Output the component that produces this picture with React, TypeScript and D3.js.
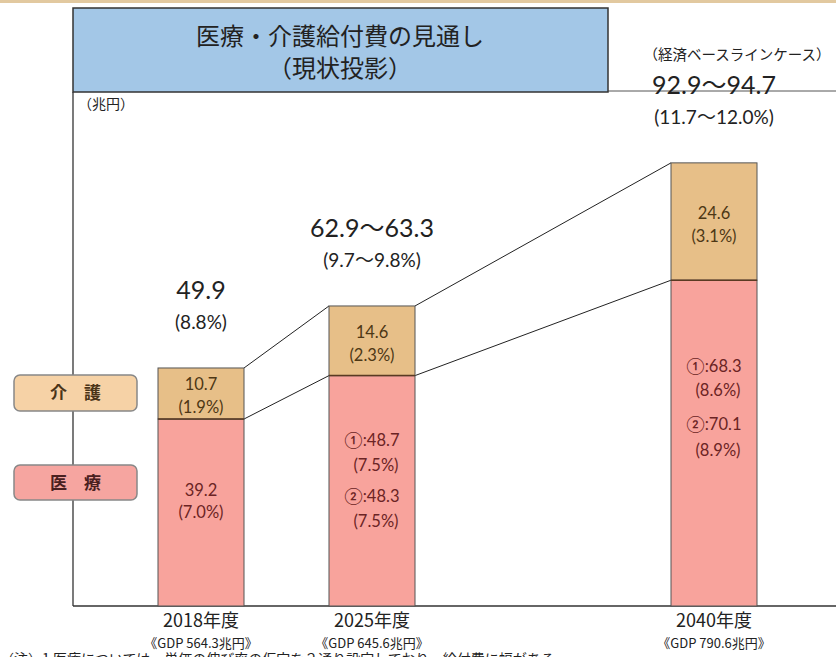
import React from "react";
import * as d3 from "d3";

const categories = ["2018年度", "2025年度", "_gap", "2040年度"];
const years = ["2018年度", "2025年度", "2040年度"];
const gdpLabels = ["《GDP 564.3兆円》", "《GDP 645.6兆円》", "《GDP 790.6兆円》"];
const medical = [39.2, 48.3, 68.3];
const care = [10.7, 14.6, 24.6];
const totalLabels = ["49.9", "62.9～63.3", "92.9～94.7"];
const totalPctLabels = ["(8.8%)", "(9.7～9.8%)", "(11.7～12.0%)"];
const careLabels = [["10.7", "(1.9%)"], ["14.6", "(2.3%)"], ["24.6", "(3.1%)"]];
const medicalLabels = [
  ["39.2", "(7.0%)"],
  ["①:48.7", "(7.5%)", "②:48.3", "(7.5%)"],
  ["①:68.3", "(8.6%)", "②:70.1", "(8.9%)"],
];

const W = 836;
const H = 657;
const baseY = 606;
const axisX = 73;
const barW = 86;

const NUM = "Lato, 'Open Sans', 'Noto Sans', sans-serif";
const JP = "'Noto Sans CJK JP', 'Noto Sans', sans-serif";

function Tilde({ text, size }: { text: string; size: number }) {
  const parts = text.split("～");
  return (
    <>
      {parts.map((p, i) => (
        <React.Fragment key={i}>
          {i > 0 && <tspan fontFamily={JP} fontSize={size}>～</tspan>}
          <tspan>{p}</tspan>
        </React.Fragment>
      ))}
    </>
  );
}

export default function App() {
  const y = d3.scaleLinear().domain([0, 100]).range([baseY, 129]);
  const x = d3.scalePoint<string>().domain(categories).range([201, 714]);

  const bars = years.map((c, i) => {
    const cx = x(c) as number;
    return {
      cx,
      x0: cx - barW / 2,
      x1: cx + barW / 2,
      yMed: y(medical[i]),
      yTop: y(medical[i] + care[i]),
    };
  });

  const connectors: { x1: number; y1: number; x2: number; y2: number }[] = [];
  for (let i = 0; i < bars.length - 1; i++) {
    const a = bars[i];
    const b = bars[i + 1];
    connectors.push({ x1: a.x1, y1: a.yTop, x2: b.x0, y2: b.yTop });
    connectors.push({ x1: a.x1, y1: a.yMed, x2: b.x0, y2: b.yMed });
  }

  const medOffsets = [
    [0, 22],
    [0, 25, 56, 81],
    [0, 24, 58, 84],
  ];
  const medStarts = [490, 440, 366];

  return (
    <svg width={W} height={H} style={{ position: "absolute", left: 0, top: 0, background: "#fff" }}>
      {/* top scan edge */}
      <rect x={0} y={0} width={W} height={3} fill="#e2c9a0" />

      {/* axes */}
      <line x1={axisX} y1={92} x2={axisX} y2={baseY} stroke="#333" strokeWidth={1.3} />
      <line x1={axisX} y1={baseY} x2={W} y2={baseY} stroke="#333" strokeWidth={1.3} />
      <line x1={608} y1={91} x2={W} y2={91} stroke="#555" strokeWidth={1} />

      {/* title box */}
      <rect x={73} y={8} width={535} height={84} fill="#a3c7e7" stroke="#333" strokeWidth={1.5} />
      <text x={340} y={45} textAnchor="middle" fontFamily={JP} fontSize={24} fill="#222">
        医療・介護給付費の見通し
      </text>
      <text x={340} y={77} textAnchor="middle" fontFamily={JP} fontSize={24} fill="#222">
        （現状投影）
      </text>
      <text x={737} y={60} textAnchor="middle" fontFamily={JP} fontSize={14.5} fill="#222">
        （経済ベースラインケース）
      </text>
      <text x={78} y={109} fontFamily={JP} fontSize={14} fill="#222">
        （兆円）
      </text>

      {/* legend */}
      <rect x={14} y={375} width={123} height={36} rx={6} fill="#f6d2a6" stroke="#888" strokeWidth={1.5} />
      <text x={75.5} y={399} textAnchor="middle" fontFamily={JP} fontSize={17} fontWeight={700} fill="#4a3418">
        介　護
      </text>
      <rect x={14} y={465} width={123} height={35} rx={6} fill="#f6a5a0" stroke="#888" strokeWidth={1.5} />
      <text x={75.5} y={489} textAnchor="middle" fontFamily={JP} fontSize={17} fontWeight={700} fill="#4a2020">
        医　療
      </text>

      {/* connectors */}
      {connectors.map((l, i) => (
        <line key={i} x1={l.x1} y1={l.y1} x2={l.x2} y2={l.y2} stroke="#222" strokeWidth={1} />
      ))}

      {/* bars */}
      {bars.map((b, i) => (
        <g key={i}>
          <rect x={b.x0} y={b.yMed} width={barW} height={baseY - b.yMed} fill="#f8a39c" stroke="#555" strokeWidth={1} />
          <rect x={b.x0} y={b.yTop} width={barW} height={b.yMed - b.yTop} fill="#e7bf88" stroke="#555" strokeWidth={1} />
          <line x1={b.x0} y1={b.yMed} x2={b.x1} y2={b.yMed} stroke="#5a3a22" strokeWidth={1.5} />
        </g>
      ))}

      {/* care labels */}
      {bars.map((b, i) => {
        const mid = (b.yTop + b.yMed) / 2;
        return (
          <g key={i} fontFamily={NUM} fontSize={16.5} fill="#4d3715" textAnchor="middle">
            <text x={b.cx} y={mid - 3}>{careLabels[i][0]}</text>
            <text x={b.cx} y={mid + 20}>{careLabels[i][1]}</text>
          </g>
        );
      })}

      {/* medical labels */}
      {bars.map((b, i) => (
        <g key={i} fontFamily={NUM} fontSize={16.5} fill="#6b2424" textAnchor="middle">
          {medicalLabels[i].map((t, j) => (
            <text key={j} x={b.cx + (medicalLabels[i].length > 2 && j % 2 === 1 ? 4 : 0)} y={medStarts[i] + medOffsets[i][j] + 6}>
              {t}
            </text>
          ))}
        </g>
      ))}

      {/* totals */}
      {bars.map((b, i) => (
        <g key={i} fontFamily={NUM} fill="#222" textAnchor="middle">
          <text x={b.cx} y={b.yTop - 69} fontSize={25}>
            <Tilde text={totalLabels[i]} size={25} />
          </text>
          <text x={b.cx} y={b.yTop - 39} fontSize={19}>
            <Tilde text={totalPctLabels[i]} size={19} />
          </text>
        </g>
      ))}

      {/* x labels */}
      {bars.map((b, i) => (
        <g key={i} textAnchor="middle" fill="#222">
          <text x={b.cx} y={627} fontFamily={JP} fontSize={18}>{years[i]}</text>
          <text x={b.cx} y={648} fontFamily={JP} fontSize={13}>{gdpLabels[i]}</text>
        </g>
      ))}

      {/* cut-off footnote */}
      <text x={0} y={664} fontFamily={JP} fontSize={14} fill="#222">
        （注）1 医療については、単価の伸び率の仮定を２通り設定しており、給付費に幅がある。
      </text>
    </svg>
  );
}
